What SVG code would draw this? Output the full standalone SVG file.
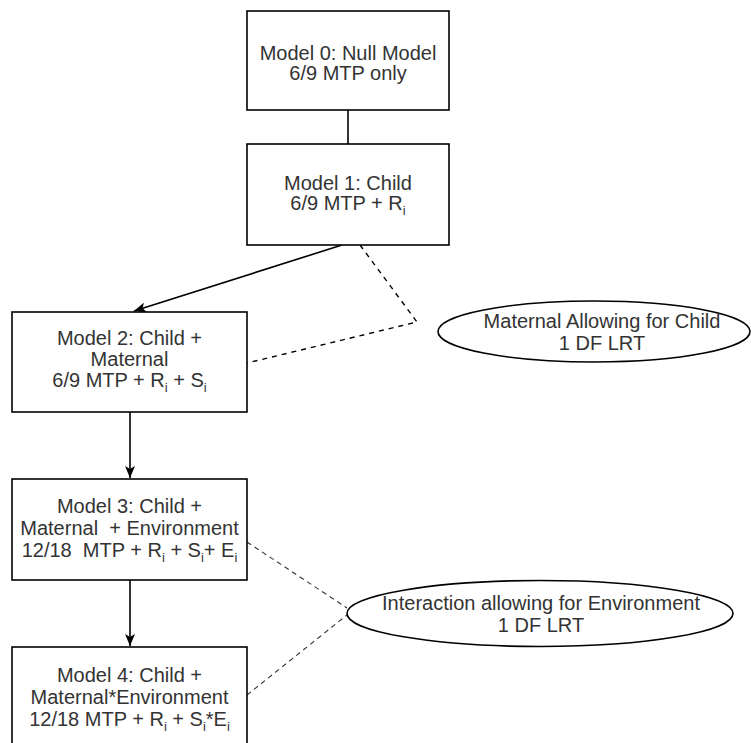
<svg xmlns="http://www.w3.org/2000/svg" width="751" height="743" viewBox="0 0 751 743">
<style>
.box{fill:#fff;stroke:#000;stroke-width:1.6}
.ell{fill:#fff;stroke:#000;stroke-width:1.6}
.t{font-family:"Liberation Sans",Arial,sans-serif;font-size:20px;fill:#333;text-anchor:middle;white-space:pre}
.sub{font-size:13px}
.solid{fill:none;stroke:#000;stroke-width:1.6}
.dash{fill:none;stroke:#000;stroke-width:1.4;stroke-dasharray:5 5}
.dash2{fill:none;stroke:#333;stroke-width:1.1;stroke-dasharray:5 4}
</style>
<defs>
<marker id="arr" viewBox="0 0 12 10" refX="12" refY="5" markerWidth="12" markerHeight="10" markerUnits="userSpaceOnUse" orient="auto">
<path d="M0,0 L12,5 L0,10 L3,5 Z" fill="#000"/>
</marker>
</defs>
<rect width="751" height="743" fill="#fff"/>
<g id="connectors">
<line class="solid" x1="348" y1="110" x2="348" y2="144"/>
<line class="solid" x1="342" y1="245" x2="134" y2="311" marker-end="url(#arr)"/>
<polyline class="dash" points="360,245 417,322 247,363"/>
<line class="solid" x1="130" y1="412" x2="130" y2="478" marker-end="url(#arr)"/>
<line class="solid" x1="130" y1="580" x2="130" y2="646" marker-end="url(#arr)"/>
<line class="dash2" x1="247" y1="542" x2="347" y2="608"/>
<line class="dash2" x1="247" y1="695" x2="347" y2="615"/>
</g>
<g id="model0">
<rect class="box" x="247" y="11" width="202" height="99"/>
<text class="t" x="348" y="60">Model 0: Null Model</text>
<text class="t" x="348" y="80">6/9 MTP only</text>
</g>
<g id="model1">
<rect class="box" x="247" y="144" width="202" height="101"/>
<text class="t" x="348" y="190">Model 1: Child</text>
<text class="t" x="348" y="210">6/9 MTP + R<tspan class="sub" dy="5">i</tspan></text>
</g>
<g id="model2">
<rect class="box" x="12" y="312" width="235" height="100"/>
<text class="t" x="129.5" y="345">Model 2: Child +</text>
<text class="t" x="129.5" y="366">Maternal</text>
<text class="t" x="129.5" y="387">6/9 MTP + R<tspan class="sub" dy="5">i</tspan><tspan dy="-5"> + S</tspan><tspan class="sub" dy="5">i</tspan></text>
</g>
<g id="model3">
<rect class="box" x="12" y="479" width="235" height="101"/>
<text class="t" x="129.5" y="513">Model 3: Child +</text>
<text class="t" x="129.5" y="535">Maternal  + Environment</text>
<text class="t" x="129.5" y="557">12/18  MTP + R<tspan class="sub" dy="5">i</tspan><tspan dy="-5"> + S</tspan><tspan class="sub" dy="5">i</tspan><tspan dy="-5">+ E</tspan><tspan class="sub" dy="5">i</tspan></text>
</g>
<g id="model4">
<rect class="box" x="12" y="647" width="235" height="100"/>
<text class="t" x="129.5" y="682">Model 4: Child +</text>
<text class="t" x="129.5" y="704">Maternal*Environment</text>
<text class="t" x="129.5" y="726">12/18 MTP + R<tspan class="sub" dy="5">i</tspan><tspan dy="-5"> + S</tspan><tspan class="sub" dy="5">i</tspan><tspan dy="-5">*E</tspan><tspan class="sub" dy="5">i</tspan></text>
</g>
<g id="lrt1">
<ellipse class="ell" cx="594" cy="331.5" rx="156" ry="30.5"/>
<text class="t" x="602" y="328">Maternal Allowing for Child</text>
<text class="t" x="602" y="350">1 DF LRT</text>
</g>
<g id="lrt2">
<ellipse class="ell" cx="540" cy="613.5" rx="193" ry="33"/>
<text class="t" x="541" y="610">Interaction allowing for Environment</text>
<text class="t" x="541" y="632">1 DF LRT</text>
</g>
</svg>
